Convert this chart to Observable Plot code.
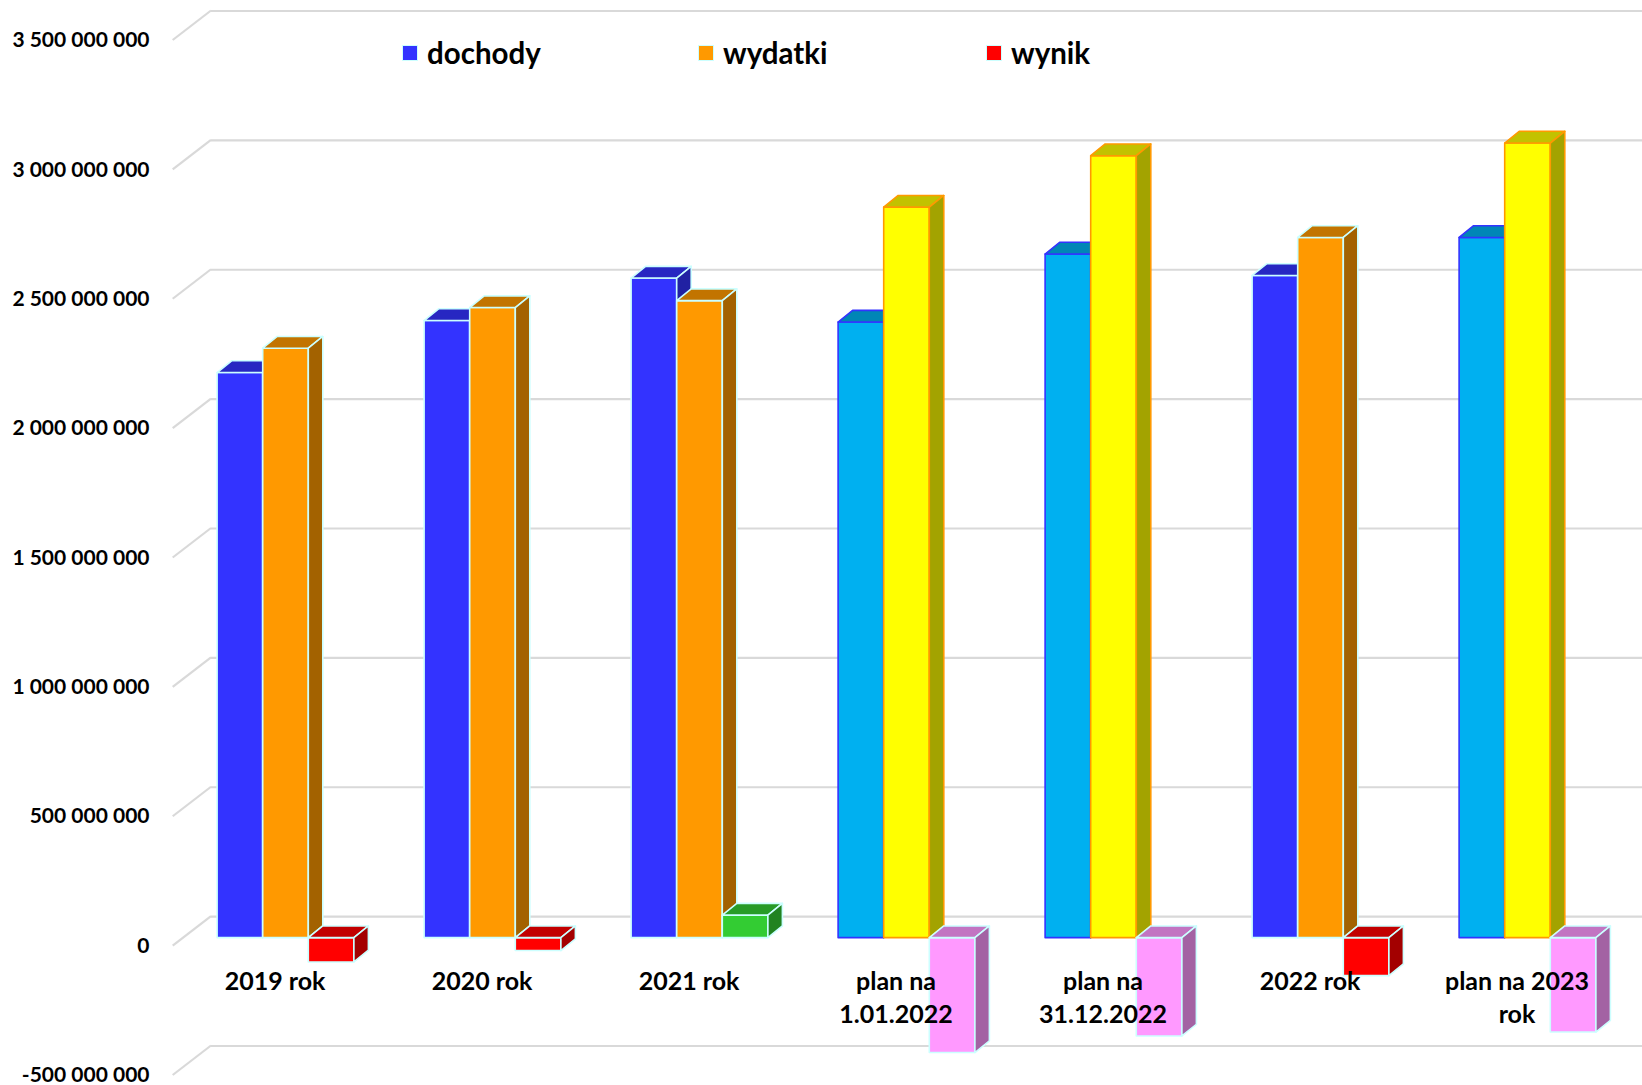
<!DOCTYPE html>
<html>
<head>
<meta charset="utf-8">
<script src="https://cdn.jsdelivr.net/npm/d3@7"></script>
<script src="https://cdn.jsdelivr.net/npm/@observablehq/plot@0.6"></script>
<style>
  body { margin: 0; background: #ffffff; }
  #wrap { position: relative; width: 1642px; height: 1085px; font-family: Lato, "Open Sans", sans-serif; }
  #legend { position: absolute; left: 0; top: 0; width: 100%; height: 80px; pointer-events: none; }
  .item { position: absolute; top: 35px; display: flex; align-items: center; font-weight: bold; font-size: 29.5px; color: #000; }
  .sw { width: 14px; height: 14px; border: 1.5px solid #CCFFFF; margin-right: 9px; }
</style>
</head>
<body>
<div id="wrap"><div id="legend"></div></div>
<script>
// ---------------- data ----------------
const categories = ["2019 rok", "2020 rok", "2021 rok", "plan na 1.01.2022", "plan na 31.12.2022", "2022 rok", "plan na 2023 rok"];
const categoryLabels = ["2019 rok", "2020 rok", "2021 rok", "plan na\n1.01.2022", "plan na\n31.12.2022", "2022 rok", "plan na 2023\nrok"];
const series = ["dochody", "wydatki", "wynik"];
const dochody = [2184e6, 2385e6, 2549e6, 2379e6, 2642e6, 2559e6, 2706e6];
const wydatki = [2278e6, 2435e6, 2462e6, 2823e6, 3022e6, 2706e6, 3071e6];
const wynik = [-94e6, -50e6, 87e6, -444e6, -380e6, -147e6, -365e6];
const yTicks = [-500e6, 0, 500e6, 1000e6, 1500e6, 2000e6, 2500e6, 3000e6, 3500e6];

// ---------------- styles ----------------
const colors = {
  actual: { dochody: "#3333FF", wydatki: "#FF9900", loss: "#FF0000", gain: "#33CC33" },
  plan: { dochody: "#00B0F0", wydatki: "#FFFF00", wynik: "#FF99FF" }
};
const strokes = {
  actual: "#CCFFFF",
  plan: { dochody: "#3333FF", wydatki: "#FF9900", wynik: "#CCFFFF" }
};
const legendColors = { dochody: "#3333FF", wydatki: "#FF9900", wynik: "#FF0000" };
const legendLeft = [402, 698, 986];
const depth = { dx: 14.5, dy: 11.7 };        // bar 3D depth
const wall = { dx: 31, dy: -21.5 };          // back wall offset from bar plane
const front = { dx: -7.3, dy: 8 };           // front edge offset from bar plane
const shade = (c, k) => { const r = d3.rgb(c); return d3.rgb(r.r * k, r.g * k, r.b * k).formatHex(); };

const valuesBySeries = { dochody, wydatki, wynik };
const rows = categories.flatMap((c, i) => series.map(s => ({
  category: c, series: s, value: valuesBySeries[s][i], plan: c.startsWith("plan")
})));

function fillOf(r) {
  if (r.plan) return colors.plan[r.series];
  if (r.series === "wynik") return r.value < 0 ? colors.actual.loss : colors.actual.gain;
  return colors.actual[r.series];
}
function strokeOf(r) { return r.plan ? strokes.plan[r.series] : strokes.actual; }

const locale = d3.formatLocale({ decimal: ",", thousands: " ", grouping: [3], currency: ["", " zł"], minus: "-" });
const fmt = locale.format(",.0f");

function bars3d(index, scales, values, dimensions) {
  const bw = typeof scales.x.bandwidth === "function" ? scales.x.bandwidth() : scales.x.bandwidth;
  const sub = d3.scaleBand().domain(series).range([0, bw]).paddingInner(0).paddingOuter(0.77);
  const w = sub.bandwidth();
  const g = d3.create("svg:g");
  for (const i of index) {
    const r = rows[i];
    const x0 = scales.x(r.category) + sub(r.series), x1 = x0 + w;
    const yz = scales.y(0), yv = scales.y(r.value);
    const yt = Math.min(yz, yv), yb = Math.max(yz, yv);
    const f = fillOf(r), s = strokeOf(r);
    const grp = g.append("g").attr("stroke", s).attr("stroke-width", 1.6).attr("stroke-linejoin", "round");
    grp.append("rect").attr("x", x0).attr("y", yt).attr("width", w).attr("height", yb - yt).attr("fill", f);
    grp.append("polygon").attr("fill", shade(f, 0.76))
      .attr("points", [[x0, yt], [x0 + depth.dx, yt - depth.dy], [x1 + depth.dx, yt - depth.dy], [x1, yt]].join(" "));
    grp.append("polygon").attr("fill", shade(f, 0.64))
      .attr("points", [[x1, yt], [x1 + depth.dx, yt - depth.dy], [x1 + depth.dx, yb - depth.dy], [x1, yb]].join(" "));
  }
  return g.node();
}

function wallDiagonals(index, scales, values, dimensions) {
  const g = d3.create("svg:g").attr("stroke", "#D9D9D9").attr("stroke-width", 2.2);
  const xl = dimensions.marginLeft;
  for (const i of index) {
    const y = scales.y(yTicks[i]);
    g.append("line").attr("x1", xl + front.dx).attr("y1", y + front.dy)
      .attr("x2", xl + wall.dx).attr("y2", y + wall.dy);
  }
  return g.node();
}

const chart = Plot.plot({
  width: 1642,
  height: 1085,
  marginLeft: 180,
  marginRight: 9.5,
  marginTop: 32,
  marginBottom: 18,
  style: { fontFamily: "Lato, 'Open Sans', sans-serif", background: "#ffffff", overflow: "visible" },
  x: { type: "band", domain: categories, padding: 0, axis: null },
  y: { domain: [-500e6, 3500e6], axis: null },
  marks: [
    Plot.ruleY(yTicks, { stroke: "#D9D9D9", strokeWidth: 2.2, dx: wall.dx, dy: wall.dy }),
    Plot.ruleY(yTicks, { render: wallDiagonals }),
    Plot.barY(rows, { x: "category", y1: 0, y2: "value", render: bars3d }),
    Plot.text(yTicks, { y: d => d, frameAnchor: "left", textAnchor: "end", text: d => fmt(d),
      dx: -31, dy: front.dy, fontSize: 21, fontWeight: "bold", fill: "#000" }),
    Plot.text(categories, { x: d => d, y: () => 0, text: (d, i) => categoryLabels[i],
      lineAnchor: "top", lineHeight: 1.34, fontSize: 25, fontWeight: "bold", fill: "#000",
      dx: -11, dy: 28 })
  ]
});
const wrap = document.getElementById("wrap");
wrap.insertBefore(chart, wrap.firstChild);

const legend = document.getElementById("legend");
series.forEach((s, i) => {
  const it = document.createElement("div");
  it.className = "item";
  it.style.left = legendLeft[i] + "px";
  const sw = document.createElement("span");
  sw.className = "sw";
  sw.style.background = legendColors[s];
  it.appendChild(sw);
  it.appendChild(document.createTextNode(s));
  legend.appendChild(it);
});
</script>
</body>
</html>
